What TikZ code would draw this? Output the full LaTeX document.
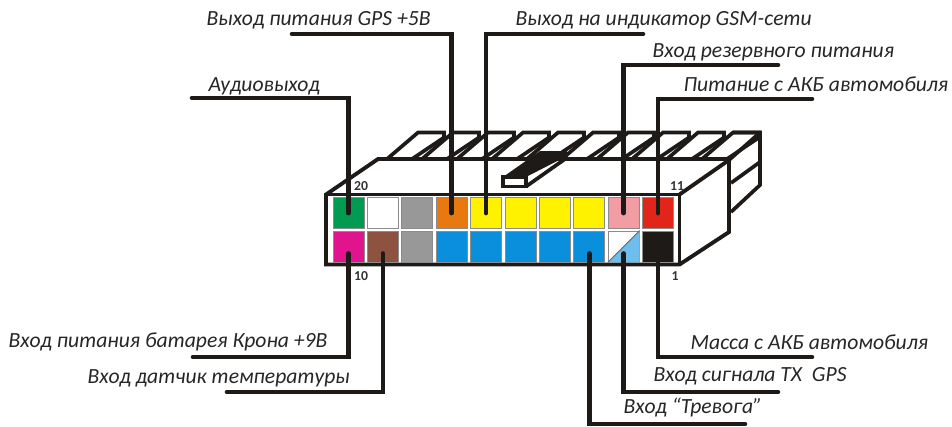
\documentclass[tikz,border=0pt]{standalone}
\usepackage{fontspec}
\setmainfont{Carlito}
\usepackage{xcolor}
\usetikzlibrary{calc}
\definecolor{cgreen}{HTML}{009A50}
\definecolor{cmagenta}{HTML}{E0148C}
\definecolor{cbrown}{HTML}{8E5240}
\definecolor{cgrey}{HTML}{989898}
\definecolor{corange}{HTML}{E8790F}
\definecolor{cyellow}{HTML}{FFF200}
\definecolor{cblue}{HTML}{0A8FDC}
\definecolor{cpink}{HTML}{F29CA3}
\definecolor{cred}{HTML}{E1251B}
\definecolor{cblack}{HTML}{1E1A18}
\definecolor{clight}{HTML}{6DBEEC}
\tikzset{
  body/.style={draw=cblack,line width=1.1pt,line join=miter},
  pin/.style={draw=cblack,line width=1.05pt,line join=miter},
  cell/.style={draw=black!45,line width=0.25pt,minimum width=0.31cm,minimum height=0.31cm,inner sep=0pt},
  wire/.style={draw=cblack,line width=1.3pt,line cap=round},
  wireup/.style={wire,shorten >=-1.6mm},
  wiredown/.style={wire,shorten >=-0.9mm},
  lab/.style={anchor=base west,inner sep=0pt,text=black!85,font=\fontsize{6.15}{7}\selectfont\itshape},
  num/.style={anchor=base,inner sep=0pt,text=black!80,font=\fontsize{3.9}{5}\selectfont\bfseries}
}
\begin{document}
\begin{tikzpicture}[x=0.01cm,y=-0.01cm]
\useasboundingbox (0,0) rectangle (952,426);

\coordinate (audioEnd) at (192,98);
\coordinate (gpsEnd) at (292,34);
\coordinate (gsmEnd) at (643,34);
\coordinate (reserveEnd) at (778,65);
\coordinate (akbEnd) at (812,99);
\coordinate (kronaEnd) at (193,357);
\coordinate (tempEnd) at (227,392);
\coordinate (massaEnd) at (812,357);
\coordinate (txEnd) at (778,392);
\coordinate (alarmEnd) at (745,424);

\foreach \x in {418,453,...,733}
  \draw[pin] ({\x-31},159)--(\x,132.5)--({\x+26},132.5)--({\x+26},137.5)--({\x-6},159);

\draw[pin] (733,132.5)--(760,132.5)--(760,185)--(731,212);
\draw[pin] (760,132.5)--(729,160);
\draw[pin] (731,183)--(760,162);

\filldraw[body,fill=white] (326,194.5)--(378,159)--(729,159)--(729,232)--(679.5,264.5)--(326,264.5)--cycle;
\draw[body] (326,194.5)--(679.5,194.5)--(679.5,264.5);
\draw[body] (679.5,194.5)--(729,160);

\fill[cblack] (503,177)--(540,151)--(565,151)--(565,157)--(526,177)--cycle;
\draw[pin] (503,177) rectangle (526,186.5);
\draw[pin] (526,186.5)--(565,159)--(565,151);

\foreach \i/\top/\bot in {0/cgreen/cmagenta,1/white/cbrown,2/cgrey/cgrey,3/corange/cblue,4/cyellow/cblue,
  5/cyellow/cblue,6/cyellow/cblue,7/cyellow/cblue,8/cpink/white,9/cred/cblack}
{
  \node[cell,fill=\top] (top\i) at ({348.5+34.4*\i},213) {};
  \node[cell,fill=\bot] (bot\i) at ({348.5+34.4*\i},246.5) {};
}
\fill[clight] (bot8.south west)--(bot8.north east)--(bot8.south east)--cycle;
\draw[black!60,line width=0.25pt] (bot8.south west)--(bot8.north east);

\draw[wireup] (audioEnd) -| (top0.north);
\draw[wireup] (gpsEnd) -| (top3.north);
\draw[wireup] (gsmEnd) -| (top4.north);
\draw[wireup] (reserveEnd) -| (top8.north);
\draw[wireup] (akbEnd) -| (top9.north);
\draw[wiredown] (kronaEnd) -| (bot0.south);
\draw[wiredown] (tempEnd) -| (bot1.south);
\draw[wiredown] (massaEnd) -| (bot9.south);
\draw[wiredown] (txEnd) -| (bot8.south);
\draw[wiredown] (alarmEnd) -| (bot7.south);

\node[lab] (audioLab) at (208,91.5) {Аудиовыход};
\node[lab] (gpsLab) at (206,25) {Выход питания GPS +5В};
\node[lab] (gsmLab) at (515,25) {Выход на индикатор GSM-сети};
\node[lab] (reserveLab) at (652,57.5) {Вход резервного питания};
\node[lab] (akbLab) at (683,91.5) {Питание с АКБ автомобиля};
\node[lab] (kronaLab) at (8,347) {Вход питания батарея Крона +9В};
\node[lab] (tempLab) at (87,383) {Вход датчик температуры};
\node[lab] (massaLab) at (690,349) {Масса с АКБ автомобиля};
\node[lab] (txLab) at (653,381) {Вход сигнала TX~ GPS};
\node[lab] (alarmLab) at (623,413) {Вход “Тревога”};

\node[num] (n20) at (361,190) {20};
\node[num] (n11) at (677,190) {11};
\node[num] (n10) at (361,280) {10};
\node[num] (n1) at (675,280) {1};
\end{tikzpicture}
\end{document}
